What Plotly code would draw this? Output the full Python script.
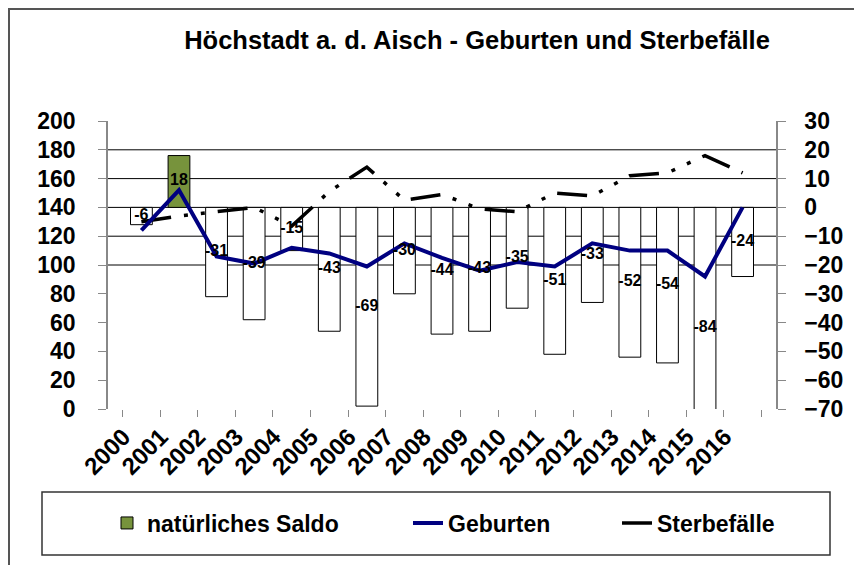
import plotly.graph_objects as go

years = [str(y) for y in range(2000, 2017)]
saldo = [-6, 18, -31, -39, -15, -43, -69, -30, -44, -43, -35, -51, -33, -52, -54, -84, -24]
geburten = [124, 152, 106, 101, 112, 108, 99, 115, 105, 96, 102, 99, 115, 110, 110, 92, 140]
sterbefaelle = [130, 134, 137, 140, 127, 151, 168, 145, 149, 139, 137, 150, 148, 162, 164, 176, 164]
# horizontal gridlines, in right-axis units (= 100..180 on the left axis)
grid_levels = [-20, -10, 0, 10, 20]

FONT = "Liberation Sans, Arial, sans-serif"
OFF = 8  # page body margin
W, H = 862 - OFF, 565 - OFF
# plot area in screen pixels
L, R, T, B = 108, 776, 121, 409
pw, ph = R - L, B - T
RMIN, RMAX = -70, 30

def px(x):
    return (x - L) / pw

def py(y):
    return (B - y) / ph

saldo_pos = [v if v > 0 else None for v in saldo]
saldo_neg = [v if v <= 0 else None for v in saldo]

fig = go.Figure()
# bars on the primary axis (right side, -70..30) so they are drawn first
fig.add_trace(go.Bar(x=years, y=saldo_neg, yaxis="y", width=0.58,
                     marker=dict(color="white", line=dict(color="black", width=1)),
                     showlegend=False, hoverinfo="skip"))
fig.add_trace(go.Bar(x=years, y=saldo_pos, yaxis="y", width=0.58, name="natürliches Saldo",
                     marker=dict(color="#77933C", line=dict(color="black", width=1)),
                     legend="legend"))
# lines on the left axis (0..200), drawn above the bars
fig.add_trace(go.Scatter(x=years, y=sterbefaelle, mode="lines", name="Sterbefälle", yaxis="y2",
                         line=dict(color="black", width=3.5, dash="30px,13px,4px,13px,4px,13px"),
                         legend="legend3"))
fig.add_trace(go.Scatter(x=years, y=geburten, mode="lines", name="Geburten", yaxis="y2",
                         line=dict(color="#000080", width=4), legend="legend2"))
# bar value labels on top
fig.add_trace(go.Scatter(x=years, y=[v / 2 for v in saldo], yaxis="y3", mode="text",
                         text=[str(v) for v in saldo], showlegend=False,
                         textfont=dict(family=FONT, size=16, color="black", weight="bold"),
                         cliponaxis=False))

shapes = []
for g in grid_levels:
    gy = (g - RMIN) / (RMAX - RMIN)
    shapes.append(dict(type="line", xref="paper", yref="paper", x0=0, x1=1, y0=gy, y1=gy,
                       line=dict(color="black", width=1), layer="below"))
# outer frame
shapes.append(dict(type="rect", xref="paper", yref="paper", x0=px(9), x1=px(880), y0=py(580), y1=py(9),
                   line=dict(color="#555555", width=2), layer="below"))
# legend box
shapes.append(dict(type="rect", xref="paper", yref="paper", x0=px(42), x1=px(830), y0=py(555), y1=py(492),
                   line=dict(color="#333333", width=1.5), layer="below"))

legend_font = dict(family=FONT, size=23, color="black", weight="bold")
def leg(xs):
    return dict(orientation="h", x=px(xs), xanchor="left", y=py(523), yanchor="middle",
                font=legend_font, bgcolor="rgba(0,0,0,0)", borderwidth=0)

tickfont = dict(family=FONT, size=23, color="black", weight="bold")

fig.update_layout(
    width=W, height=H,
    margin=dict(l=L - OFF, r=W - (R - OFF), t=T - OFF, b=H - (B - OFF), autoexpand=False),
    paper_bgcolor="rgba(0,0,0,0)", plot_bgcolor="rgba(0,0,0,0)",
    barmode="overlay",
    font=dict(family=FONT, color="black", weight="bold"),
    title=dict(text="Höchstadt a. d. Aisch - Geburten und Sterbefälle",
               x=px(477), xref="paper", xanchor="center",
               y=1 - (40 - OFF) / H, yref="container", yanchor="middle",
               font=dict(family=FONT, size=25.5, color="black", weight="bold")),
    xaxis=dict(type="category", showgrid=False, showline=False, zeroline=False,
               ticks="outside", tickson="boundaries", ticklen=7, tickcolor="#888888",
               tickangle=-45, automargin=False, ticklabelshift=-18, ticklabelstandoff=8,
               tickfont=dict(family=FONT, size=24, color="black", weight="bold")),
    yaxis=dict(range=[RMIN, RMAX], dtick=10, side="right",
               showgrid=False, zeroline=False,
               showline=True, linecolor="#888888", linewidth=1.5,
               ticks="outside", ticklen=8, tickcolor="#888888",
               ticklabelstandoff=14, automargin=False, tickfont=tickfont),
    yaxis2=dict(range=[0, 200], dtick=20, side="left", overlaying="y",
                showgrid=False, zeroline=False,
                showline=True, linecolor="#888888", linewidth=1.5,
                ticks="outside", ticklen=8, tickcolor="#888888",
                ticklabelstandoff=18, automargin=False, tickfont=tickfont),
    yaxis3=dict(range=[RMIN, RMAX], overlaying="y", visible=False),
    legend=leg(107),
    legend2=leg(408),
    legend3=leg(617),
    shapes=shapes,
    showlegend=True,
)

fig.write_html("out.html")
